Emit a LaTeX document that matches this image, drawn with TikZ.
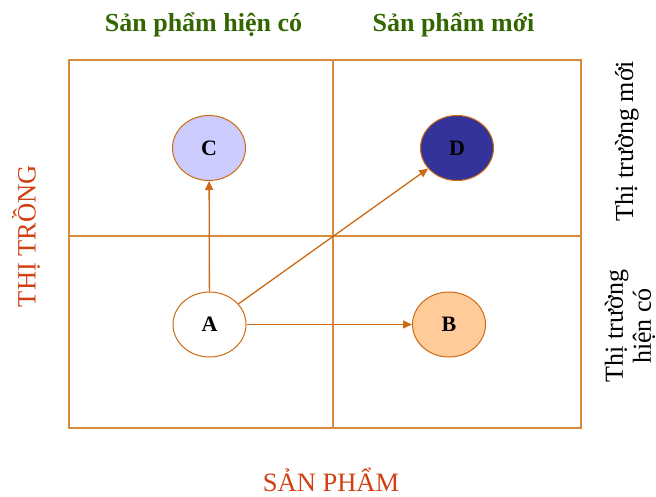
\documentclass[tikz,border=0pt]{standalone}
\usepackage{fontspec}
\setmainfont{Liberation Serif}
\usetikzlibrary{arrows.meta, shapes.geometric, positioning}
\definecolor{ansgreen}{HTML}{336600}
\definecolor{gridorange}{HTML}{D98A3A}
\definecolor{edgeorange}{HTML}{CC6A14}
\definecolor{labelred}{HTML}{D04010}
\definecolor{lavender}{HTML}{CCCCFF}
\definecolor{navyblue}{HTML}{333399}
\definecolor{peach}{HTML}{FFCC99}

\begin{document}
\begin{tikzpicture}[x=1pt, y=-1pt,
    cell/.style={ellipse, draw=edgeorange, line width=1pt, minimum width=73pt, minimum height=65pt, inner sep=0pt, font=\fontsize{22}{24}\selectfont\bfseries},
    move/.style={-{Triangle[length=9pt, width=8pt]}, draw=edgeorange, line width=1.3pt},
    colhead/.style={ansgreen, font=\fontsize{26}{30}\selectfont\bfseries},
    rowhead/.style={black, rotate=90, align=center, font=\fontsize{26}{28}\selectfont},
    axis/.style={labelred, inner sep=0pt, font=\fontsize{26.5}{30}\selectfont}]
  \useasboundingbox (0,0) rectangle (656,497);

  % ma tran bon o
  \draw[gridorange, line width=1.1pt] (69,60) rectangle (581,428);
  \draw[gridorange, line width=1.1pt] (333,60) -- (333,428);
  \draw[gridorange, line width=1.1pt] (69,236) -- (581,236);

  % tieu de
  \node[colhead] (spcu) at (203.5,25) {Sản phẩm hiện có};
  \node[colhead] (spmoi) at (453.5,25) {Sản phẩm mới};
  \node[rowhead] (ttmoi) at (627,141) {Thị trường mới};
  \node[rowhead] (ttcu) at (630,326) {Thị trường\\hiện có};
  \node[axis, rotate=90] (thitruong) at (26,236) {THỊ TRỒNG};
  \node[axis] (sanpham) at (331,480) {SẢN PHẨM};

  % cac chien luoc
  \node[cell, fill=lavender] (C) at (209,148) {C};
  \node[cell, fill=navyblue] (D) at (457,148) {D};
  \node[cell, fill=white] (A) at (209.5,324.5) {A};
  \node[cell, fill=peach] (B) at (449,324.5) {B};

  \draw[move] (A) -- (C);
  \draw[move] (A) -- (D);
  \draw[move] (A) -- (B);
\end{tikzpicture}
\end{document}
